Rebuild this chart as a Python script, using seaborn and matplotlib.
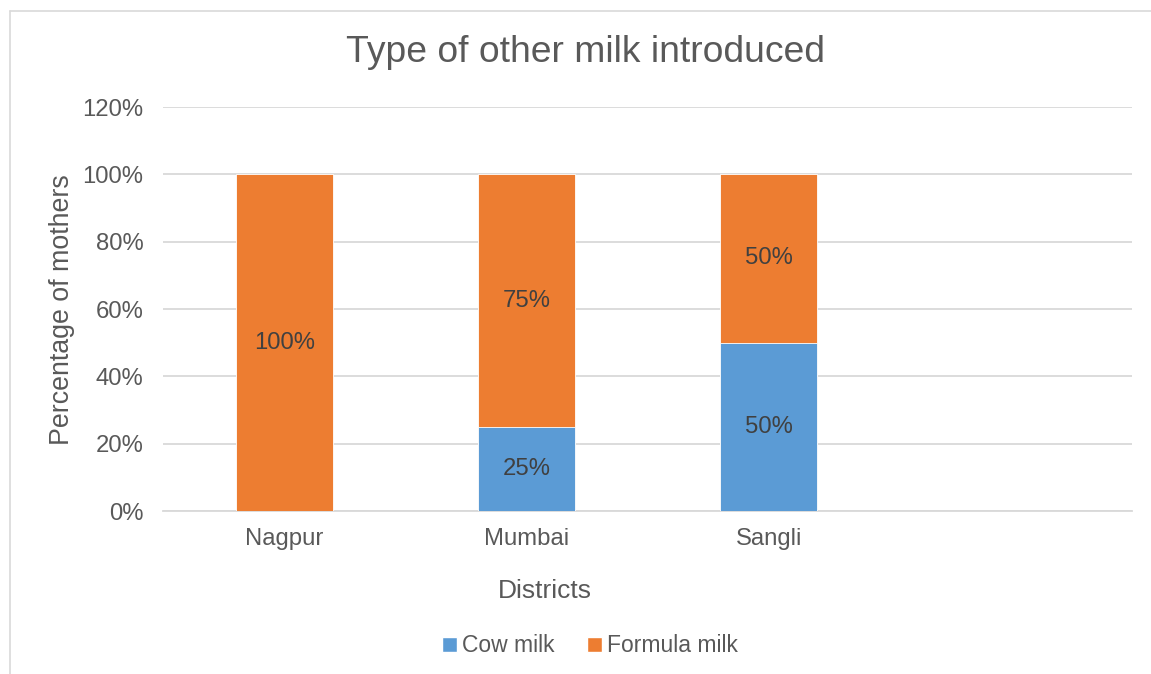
import matplotlib
matplotlib.use("Agg")
import matplotlib.pyplot as plt
from matplotlib.lines import Line2D
from matplotlib.patches import Patch
import seaborn as sns
import pandas as pd

# Data: share of mothers by type of other milk introduced, per district
districts = ["Nagpur", "Mumbai", "Sangli"]
cow_milk = [0, 25, 50]
formula_milk = [100, 75, 50]
slots = ["Nagpur", "Mumbai", "Sangli", " "]  # trailing empty category slot
y_ticks = [0, 20, 40, 60, 80, 100, 120]

BLUE = "#5B9BD5"
ORANGE = "#ED7D31"
TEXT = "#595959"
GRID = "#D9D9D9"

sns.set_style("white")
plt.rcParams["font.family"] = ["Liberation Sans", "DejaVu Sans"]

df = pd.DataFrame({
    "district": districts,
    "cow": cow_milk,
    "formula": formula_milk,
})
df["total"] = df["cow"] + df["formula"]

W, H = 1151, 674
fig = plt.figure(figsize=(W / 100, H / 100), dpi=100)
ax = fig.add_axes([163 / W, (H - 511) / H, 969 / W, 404 / H])

# Stacked bars: full height in orange, lower segment in blue on top of it
sns.barplot(data=df, x="district", y="total", order=slots, color=ORANGE,
            width=0.4, saturation=1, linewidth=0.6, ax=ax, zorder=3)
sns.barplot(data=df, x="district", y="cow", order=slots, color=BLUE,
            width=0.4, saturation=1, linewidth=0.6, ax=ax, zorder=4)

# Segment value labels
LABEL_SIZE = 17.2
for i, row in df.iterrows():
    if row["cow"] > 0:
        ax.text(i, row["cow"] / 2, f"{row['cow']:.0f}%", ha="center", va="center",
                fontsize=LABEL_SIZE, color="#404040", zorder=5)
    if row["formula"] > 0:
        ax.text(i, row["cow"] + row["formula"] / 2, f"{row['formula']:.0f}%",
                ha="center", va="center", fontsize=LABEL_SIZE, color="#404040", zorder=5)

ax.set_xlim(-0.5, 3.5)
ax.set_ylim(0, 120)
ax.set_yticks(y_ticks)
ax.set_yticklabels([f"{t}%" for t in y_ticks])
ax.yaxis.grid(True, color=GRID, linewidth=1.3, zorder=0)
ax.set_axisbelow(True)
for side in ["top", "right", "left"]:
    ax.spines[side].set_visible(False)
ax.spines["bottom"].set_color(GRID)
ax.spines["bottom"].set_linewidth(1.3)
ax.tick_params(axis="both", length=0, labelsize=LABEL_SIZE, labelcolor=TEXT)
ax.tick_params(axis="y", pad=14)
ax.tick_params(axis="x", pad=12)

ax.set_xlabel("")
ax.set_ylabel("")
fig.text(545 / W, 1 - 591 / H, "Districts", ha="center", va="center",
         fontsize=19, color=TEXT)
fig.text(62 / W, 1 - 310 / H, "Percentage of mothers", ha="center", va="center",
         rotation=90, fontsize=19.3, color=TEXT)
fig.text(586 / W, 1 - 53 / H, "Type of other milk introduced", ha="center",
         va="center", fontsize=26.8, color=TEXT)

handles = [Patch(facecolor=BLUE, label="Cow milk"),
           Patch(facecolor=ORANGE, label="Formula milk")]
fig.legend(handles=handles, loc="center", bbox_to_anchor=(590 / W, 1 - 646 / H),
           ncol=2, frameon=False, fontsize=16.5, labelcolor=TEXT,
           handlelength=0.65, handleheight=0.65, handletextpad=0.25,
           columnspacing=1.4)

# Chart area frame (top and left edges)
fig.add_artist(Line2D([10 / W, 1], [1 - 11 / H, 1 - 11 / H], color=GRID, linewidth=1.2))
fig.add_artist(Line2D([10 / W, 10 / W], [0, 1 - 11 / H], color=GRID, linewidth=1.2))

fig.savefig("out.png", dpi=100, facecolor="white")
